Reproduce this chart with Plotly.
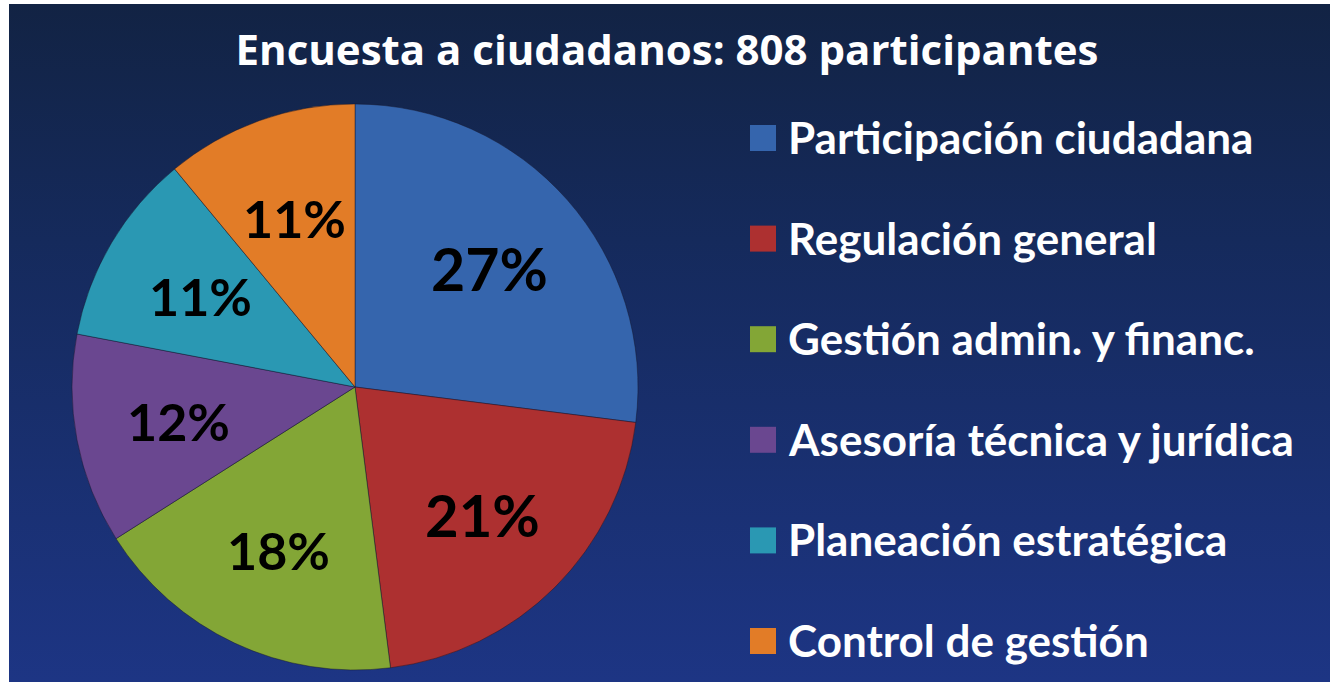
import math
import base64
import plotly.graph_objects as go

# ---- data ----
categories = ["Participación ciudadana", "Regulación general", "Gestión admin. y financ.",
              "Asesoría técnica y jurídica", "Planeación estratégica", "Control de gestión"]
percentages = [27, 21, 18, 12, 11, 11]
colors = ["#3565ad", "#ad3030", "#83a636", "#6a4790", "#2a98b3", "#e27c27"]
label_sizes = [59, 58, 52, 52, 52, 52]
title_text = "Encuesta a ciudadanos: 808 participantes"

W, H = 1330, 684
FONT = "Lato, 'Open Sans', sans-serif"
TFONT = "'Open Sans', Lato, sans-serif"

# pie geometry (pixels)
cx, cy, R = 355, 387, 283

# gradient background via svg data uri
svg = ('<svg xmlns="http://www.w3.org/2000/svg" width="100" height="100" preserveAspectRatio="none">'
       '<defs><linearGradient id="g" x1="0" y1="0" x2="0" y2="1">'
       '<stop offset="0" stop-color="#122344"/><stop offset="0.35" stop-color="#152a5c"/>'
       '<stop offset="1" stop-color="#1d3584"/></linearGradient></defs>'
       '<rect width="100" height="100" fill="url(#g)"/></svg>')
src = "data:image/svg+xml;base64," + base64.b64encode(svg.encode()).decode()

fig = go.Figure()
fig.add_trace(go.Pie(
    labels=categories, values=percentages, sort=False, direction="clockwise", rotation=0,
    marker=dict(colors=colors, line=dict(color="rgba(20,20,40,0.45)", width=1)),
    textinfo="none", showlegend=False,
    domain=dict(x=[(cx - R) / W, (cx + R) / W], y=[(H - cy - R) / H, (H - cy + R) / H]),
))

annotations = []
total = sum(percentages)
cum = 0
for v, fs in zip(percentages, label_sizes):
    mid = (cum + v / 2) / total
    cum += v
    th = 2 * math.pi * mid
    px = cx + 0.635 * R * math.sin(th)
    py = cy - 0.635 * R * math.cos(th)
    annotations.append(dict(x=px / W, y=1 - py / H, xref="paper", yref="paper",
                            text=f"<b>{round(v / total * 100)}%</b>", showarrow=False,
                            font=dict(family=FONT, size=fs, color="#000000"),
                            xanchor="center", yanchor="middle"))

shapes = []
leg_top, leg_gap = 138, 100.6
for i, (cat, col) in enumerate(zip(categories, colors)):
    yc = leg_top + i * leg_gap
    shapes.append(dict(type="rect", xref="paper", yref="paper",
                       x0=750 / W, x1=776 / W, y0=1 - (yc + 13) / H, y1=1 - (yc - 13) / H,
                       fillcolor=col, line=dict(width=0)))
    annotations.append(dict(x=786 / W, y=1 - (yc - 1) / H, xref="paper", yref="paper",
                            text=f"<b>{cat}</b>", showarrow=False,
                            font=dict(family=FONT, size=44, color="#ffffff"),
                            xanchor="left", yanchor="middle"))

fig.update_layout(
    width=W, height=H, margin=dict(l=0, r=0, t=0, b=0),
    paper_bgcolor="#ffffff", plot_bgcolor="rgba(0,0,0,0)",
    title=dict(text=f"<b>{title_text}</b>", x=667 / W, xanchor="center",
               y=1 - 50 / H, yanchor="middle", yref="paper",
               font=dict(family=TFONT, size=42, color="#ffffff")),
    images=[dict(source=src, xref="paper", yref="paper", x=9 / W, y=1 - 4 / H,
                 sizex=(W - 9) / W, sizey=(H - 6) / H, sizing="stretch",
                 xanchor="left", yanchor="top", layer="below")],
    shapes=shapes, annotations=annotations,
)

fig.write_html("out.html", config={"displayModeBar": False},
               post_script="document.body.style.margin='0';document.body.style.overflow='hidden';")
